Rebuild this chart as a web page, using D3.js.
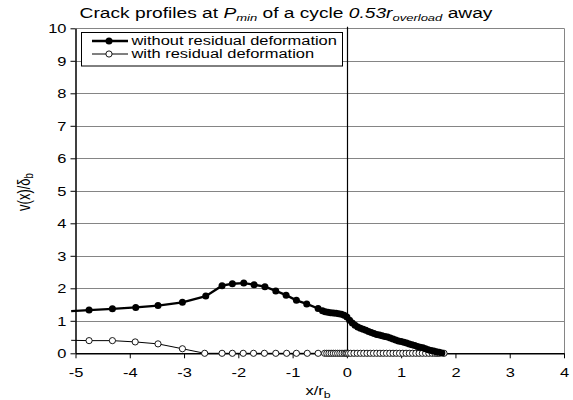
<!DOCTYPE html>
<html>
<head>
<meta charset="utf-8">
<script src="https://cdn.jsdelivr.net/npm/d3@7"></script>
<style>
  html, body { margin: 0; padding: 0; background: #fff; }
  svg { display: block; font-family: "Liberation Sans", Arial, sans-serif; }
</style>
</head>
<body>
<svg id="chart" width="573" height="400"></svg>
<script>
// ---- data ----
const xTicks = [-5, -4, -3, -2, -1, 0, 1, 2, 3, 4];
const yTicks = [0, 1, 2, 3, 4, 5, 6, 7, 8, 9, 10];
const seriesNames = ["without residual deformation", "with residual deformation"];

const withoutX = [-5.08, -4.75, -4.32, -3.89, -3.48, -3.03, -2.60, -2.30, -2.11, -1.90, -1.71, -1.51, -1.31, -1.12, -0.93, -0.74, -0.53,
  -0.45, -0.40, -0.35, -0.30, -0.25, -0.20, -0.15, -0.10, -0.05, 0.00,
  0.05, 0.10, 0.15, 0.20, 0.25, 0.30, 0.35, 0.40, 0.45, 0.50, 0.55, 0.60, 0.65, 0.70, 0.75, 0.80, 0.85, 0.90, 0.95,
  1.00, 1.05, 1.10, 1.15, 1.20, 1.25, 1.30, 1.35, 1.40, 1.45, 1.50, 1.55, 1.60, 1.65, 1.70, 1.75];
const withoutY = [1.30, 1.33, 1.37, 1.41, 1.47, 1.57, 1.76, 2.08, 2.14, 2.16, 2.11, 2.05, 1.92, 1.79, 1.63, 1.52, 1.38,
  1.31, 1.28, 1.26, 1.25, 1.24, 1.23, 1.22, 1.20, 1.17, 1.12,
  1.02, 0.93, 0.86, 0.81, 0.77, 0.74, 0.71, 0.67, 0.64, 0.61, 0.58, 0.56, 0.54, 0.52, 0.50, 0.47, 0.44, 0.41, 0.38,
  0.36, 0.34, 0.32, 0.29, 0.26, 0.24, 0.21, 0.19, 0.17, 0.14, 0.11, 0.09, 0.07, 0.05, 0.03, 0.01];

const withX = [-5.08, -4.75, -4.32, -3.90, -3.48, -3.03, -2.62, -2.30, -2.11, -1.91, -1.72, -1.52, -1.31, -1.11, -0.93, -0.73, -0.53,
  -0.41, -0.37, -0.33, -0.29, -0.25, -0.21, -0.17, -0.13, -0.09, -0.05, -0.02, 0.00,
  0.03, 0.07, 0.13, 0.19, 0.25, 0.31, 0.37, 0.43, 0.49, 0.55, 0.61, 0.67, 0.73, 0.79, 0.85, 0.91, 0.97,
  1.03, 1.09, 1.15, 1.21, 1.27, 1.33, 1.39, 1.45, 1.51, 1.57, 1.62, 1.66, 1.70, 1.79];
const withY = [0.40, 0.39, 0.39, 0.35, 0.29, 0.14, 0.00, 0.00, 0.00, 0.00, 0.00, 0.00, 0.00, 0.00, 0.00, 0.00, 0.00,
  0.00, 0.00, 0.00, 0.00, 0.00, 0.00, 0.00, 0.00, 0.00, 0.00, 0.00, 0.00,
  0.00, 0.00, 0.00, 0.00, 0.00, 0.00, 0.00, 0.00, 0.00, 0.00, 0.00, 0.00, 0.00, 0.00, 0.00, 0.00, 0.00,
  0.00, 0.00, 0.00, 0.00, 0.00, 0.00, 0.00, 0.00, 0.00, 0.00, 0.00, 0.00, 0.00, 0.00];

// ---- layout ----
const SX = 1.37; // horizontal text stretch of the original picture
const svg = d3.select("#chart");
const x = d3.scaleLinear().domain([-5, 4]).range([75.5, 564]);
const y = d3.scaleLinear().domain([0, 10]).range([353.3, 28.3]);
const gridColor = "#858585";
const fmt = d => String(d); // plain hyphen minus, as in the original

// gridlines
svg.append("g").selectAll("line").data(yTicks.filter(d => d > 0)).join("line")
  .attr("x1", x(-5)).attr("x2", x(4))
  .attr("y1", d => Math.round(y(d)) + 0.5).attr("y2", d => Math.round(y(d)) + 0.5)
  .attr("stroke", gridColor).attr("stroke-width", 1);
// right border
svg.append("line")
  .attr("x1", Math.round(x(4)) + 0.5).attr("x2", Math.round(x(4)) + 0.5)
  .attr("y1", y(10)).attr("y2", y(0))
  .attr("stroke", gridColor).attr("stroke-width", 1);
// x = 0 line
svg.append("line")
  .attr("x1", Math.round(x(0)) + 0.5).attr("x2", Math.round(x(0)) + 0.5)
  .attr("y1", y(10) - 1.5).attr("y2", y(0))
  .attr("stroke", "#000").attr("stroke-width", 1.2);

// axes
const xAxis = svg.append("g").attr("transform", `translate(0,${y(0)})`)
  .call(d3.axisBottom(x).tickValues(xTicks).tickSize(5).tickSizeOuter(0).tickFormat(fmt));
const yAxis = svg.append("g").attr("transform", `translate(${x(-5)},0)`)
  .call(d3.axisLeft(y).tickValues(yTicks).tickSize(5).tickSizeOuter(0).tickFormat(fmt));
[xAxis, yAxis].forEach(a => {
  a.select(".domain").attr("stroke", "#000").attr("stroke-width", 1.5);
  a.selectAll(".tick line").attr("stroke", "#000").attr("stroke-width", 1);
  a.selectAll(".tick text").attr("fill", "#000").style("font-size", "12px")
    .style("font-family", '"Liberation Sans", Arial, sans-serif');
});
xAxis.selectAll(".tick text").attr("y", 0).attr("dy", 0)
  .attr("transform", `translate(0,24) scale(${SX},1)`);
yAxis.selectAll(".tick text").attr("x", 0).attr("dy", 0)
  .attr("transform", `translate(-9,4.3) scale(${SX},1)`);

// series
const withoutData = withoutX.map((v, i) => ({ x: v, y: withoutY[i] }));
const withData = withX.map((v, i) => ({ x: v, y: withY[i] }));
const line = d3.line().x(d => x(d.x)).y(d => y(d.y));

svg.append("path").datum(withData).attr("d", line)
  .attr("fill", "none").attr("stroke", "#000").attr("stroke-width", 1);
svg.append("g").selectAll("circle").data(withData.filter(d => d.x >= -5)).join("circle")
  .attr("cx", d => x(d.x)).attr("cy", d => y(d.y)).attr("r", 3.1)
  .attr("fill", "#fff").attr("stroke", "#000").attr("stroke-width", 0.9);

svg.append("path").datum(withoutData).attr("d", line)
  .attr("fill", "none").attr("stroke", "#000").attr("stroke-width", 2.3);
svg.append("g").selectAll("circle").data(withoutData.filter(d => d.x >= -5)).join("circle")
  .attr("cx", d => x(d.x)).attr("cy", d => y(d.y)).attr("r", 3.5)
  .attr("fill", "#000");

// legend
const lg = svg.append("g");
lg.append("rect").attr("x", 81.5).attr("y", 32.5).attr("width", 261).attr("height", 33.5)
  .attr("fill", "#fff").attr("stroke", "#000").attr("stroke-width", 1);
const legendRows = [
  { name: seriesNames[0], filled: true, yy: 41 },
  { name: seriesNames[1], filled: false, yy: 54 }
];
legendRows.forEach(r => {
  lg.append("line").attr("x1", 92).attr("x2", 128).attr("y1", r.yy).attr("y2", r.yy)
    .attr("stroke", "#000").attr("stroke-width", r.filled ? 2.3 : 1);
  lg.append("circle").attr("cx", 109).attr("cy", r.yy).attr("r", r.filled ? 3.5 : 3.1)
    .attr("fill", r.filled ? "#000" : "#fff").attr("stroke", "#000").attr("stroke-width", r.filled ? 0 : 0.9);
  lg.append("text").attr("transform", `translate(131.5,${r.yy + 4.3}) scale(${SX},1)`)
    .style("font-size", "12px").attr("fill", "#000").text(r.name);
});

// title
const t = svg.append("text").attr("transform", `translate(286,18) scale(${SX},1)`)
  .attr("text-anchor", "middle").style("font-size", "14px").attr("fill", "#000");
t.append("tspan").text("Crack profiles at ");
t.append("tspan").style("font-style", "italic").text("P");
t.append("tspan").style("font-style", "italic").style("font-size", "9.5px").attr("dy", 3).text("min");
t.append("tspan").attr("dy", -3).text(" of a cycle ");
t.append("tspan").style("font-style", "italic").text("0.53r");
t.append("tspan").style("font-style", "italic").style("font-size", "9.5px").attr("dy", 3).text("overload");
t.append("tspan").attr("dy", -3).text(" away");

// x axis title
const xt = svg.append("text").attr("transform", `translate(318,395) scale(${SX},1)`)
  .attr("text-anchor", "middle").style("font-size", "12px").attr("fill", "#000");
xt.append("tspan").text("x/r");
xt.append("tspan").style("font-size", "9px").attr("dy", 2.5).text("b");

// y axis title
const yt = svg.append("text").attr("transform", `translate(30,192) scale(${SX},1) rotate(-90)`)
  .attr("text-anchor", "middle").style("font-size", "13px").attr("fill", "#000");
yt.append("tspan").text("v(x)/δ");
yt.append("tspan").style("font-size", "9.5px").attr("dy", 2.5).text("b");
</script>
</body>
</html>
